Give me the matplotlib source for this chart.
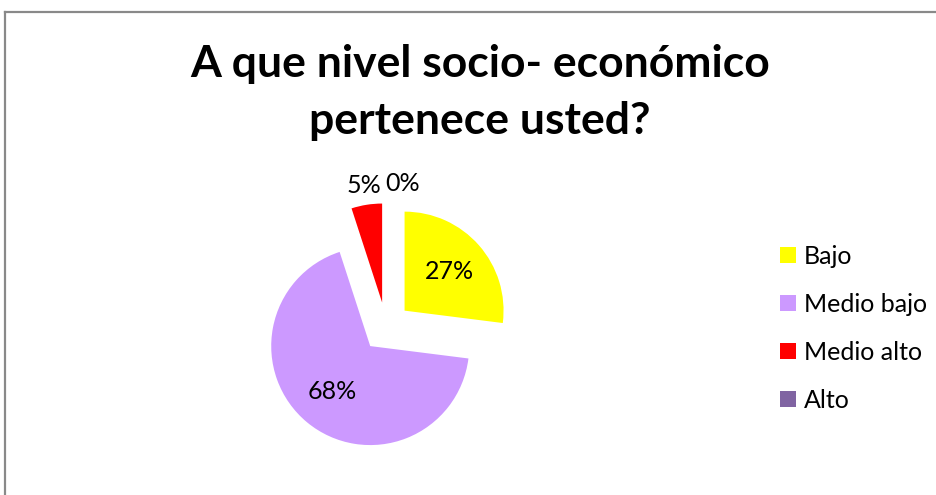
import numpy as np
import matplotlib
matplotlib.use("Agg")
import matplotlib.pyplot as plt
from matplotlib.lines import Line2D
from matplotlib.patches import Patch

# ---- data ----
categories = ["Bajo", "Medio bajo", "Medio alto", "Alto"]
values = [27, 68, 5, 0]
colors = ["#FFFF00", "#CC99FF", "#FF0000", "#8064A2"]
title_lines = ["A que nivel socio- económico", "pertenece usted?"]

FONT = "Lato"
W, H, DPI = 937, 495, 100
fig = plt.figure(figsize=(W / DPI, H / DPI), dpi=DPI)
fig.patch.set_facecolor("white")

# border (top and left visible)
fig.add_artist(Line2D([5 / W, 1.0], [1 - 12 / H, 1 - 12 / H], color="#898989", lw=1.6))
fig.add_artist(Line2D([5 / W, 5 / W], [0, 1 - 12 / H], color="#898989", lw=1.6))

# pie axes: centre (386, 327) px, radius 99 px
R = 99.0
cx, cy = 386.0, 327.0
half = 150.0
ax = fig.add_axes([(cx - half) / W, (H - cy - half) / H, 2 * half / W, 2 * half / H])
explode = [0.25] * len(values)
wedges, texts, autotexts = ax.pie(
    values, colors=colors, explode=explode, startangle=90, counterclock=False,
    autopct=lambda p: f"{p:.0f}%", pctdistance=0.6,
    textprops=dict(fontsize=18, family=FONT, color="black"),
    wedgeprops=dict(linewidth=0),
)
ax.set_xlim(-half / R, half / R)
ax.set_ylim(-half / R, half / R)
ax.set_aspect("equal")
ax.axis("off")

# small-slice labels outside, like the reference
for w, t, v, e in zip(wedges, autotexts, values, explode):
    if v < 10:
        a = np.deg2rad((w.theta1 + w.theta2) / 2)
        d = e + 1.2
        x, y = d * np.cos(a), d * np.sin(a)
        if v == 0:
            x += 0.17
        t.set_position((x, y))

# title
fig.canvas.draw()
r = fig.canvas.get_renderer()
t1 = fig.text(480 / W, 1 - 77 / H, title_lines[0], ha="center", va="baseline",
              fontsize=34, fontweight="bold", family=FONT)
fig.canvas.draw()
wd = t1.get_window_extent(r).width
fs = 34 * 581 / wd
t1.set_fontsize(fs)
t2 = fig.text(480 / W, 1 - 134 / H, title_lines[1], ha="center", va="baseline",
              fontsize=fs, fontweight="bold", family=FONT)

# legend
handles = [Patch(facecolor=c, edgecolor="none") for c in colors]
leg = fig.legend(handles, categories, loc="center left",
                 bbox_to_anchor=(763 / W, 1 - 328 / H), frameon=False,
                 prop=dict(family=FONT, size=18), handlelength=0.62, handleheight=0.62,
                 handletextpad=0.33, labelspacing=1.0, borderpad=0.2)

fig.savefig("out.png", dpi=DPI, facecolor="white")
